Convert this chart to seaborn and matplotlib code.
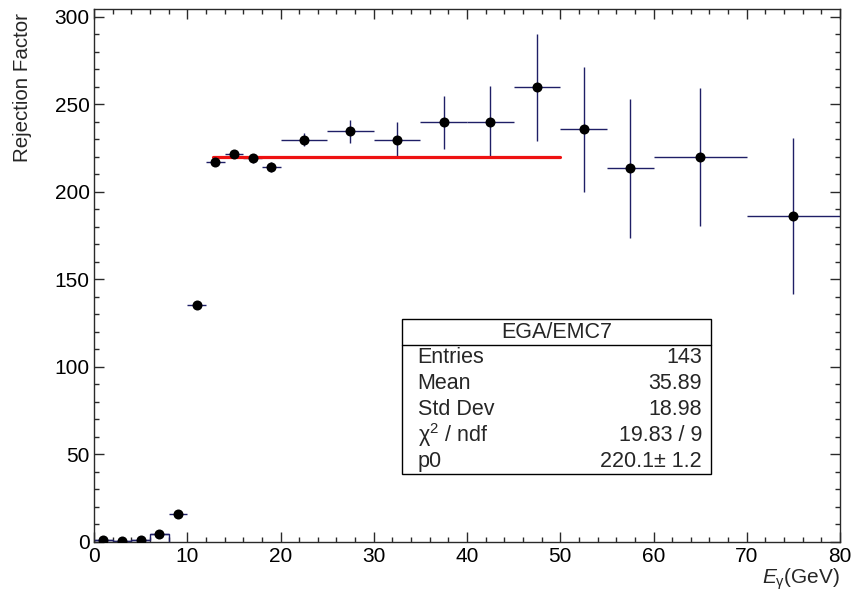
import matplotlib
matplotlib.use("Agg")
import matplotlib.pyplot as plt
import seaborn as sns
import pandas as pd

# histogram bins (ROOT style TH1 with errors)
bin_centers = [1, 3, 5, 7, 9, 11, 13, 15, 17, 19,
               22.5, 27.5, 32.5, 37.5, 42.5, 47.5, 52.5, 57.5, 65, 75]
bin_halfwidths = [1, 1, 1, 1, 1, 1, 1, 1, 1, 1,
                  2.5, 2.5, 2.5, 2.5, 2.5, 2.5, 2.5, 2.5, 5, 5]
rejection = [0.8, 0.2, 0.8, 4.3, 15.6, 135.2, 217.1, 221.5, 219.0, 214.3,
             229.8, 234.5, 229.8, 239.7, 239.7, 259.6, 235.6, 213.3, 219.8, 186.3]
rejection_err = [0.3, 0.2, 0.3, 0.8, 1.2, 1.8, 1.8, 1.8, 2.5, 2.9,
                 3.6, 6.7, 10.1, 15.2, 20.7, 30.5, 35.5, 39.5, 39.3, 44.5]

# low-energy bins drawn as outline
step_edges = [0, 2, 4, 6, 8]
step_values = [0.8, 0.2, 0.8, 4.3]

# constant fit
fit_range = [12.8, 50]
fit_p0 = 220.1

stats_title = "EGA/EMC7"
stats_labels = ["Entries", "Mean", "Std Dev", "χ$^{2}$ / ndf", "p0"]
stats_values = ["143", "35.89", "18.98", "19.83 / 9", "220.1± 1.2"]

df = pd.DataFrame({"E": bin_centers, "R": rejection})

sns.set_theme(style="ticks")
plt.rcParams["font.family"] = ["Liberation Sans", "DejaVu Sans"]
plt.rcParams["mathtext.fontset"] = "custom"
plt.rcParams["mathtext.rm"] = "Liberation Sans"
plt.rcParams["mathtext.it"] = "Liberation Sans:italic"

fig = plt.figure(figsize=(8.56, 5.91), dpi=100)
# frame from x=94..840 px, y=9..541.7 px
ax = fig.add_axes([94 / 856, 1 - 541.7 / 591, (840 - 94) / 856, (541.7 - 9) / 591])

err_color = "#1f1f66"
ax.stairs(step_values, step_edges, color=err_color, lw=1.0, baseline=0, zorder=2)
ax.errorbar(bin_centers, rejection, xerr=bin_halfwidths, yerr=rejection_err,
            fmt="none", ecolor=err_color, elinewidth=1.0, capsize=0, zorder=2)
ax.plot(fit_range, [fit_p0, fit_p0], color="#ee1111", lw=2.3, zorder=3)
sns.scatterplot(data=df, x="E", y="R", ax=ax, color="black", s=52,
                edgecolor="black", linewidth=0, zorder=4, legend=False)

ax.set_xlim(0, 80)
ax.set_ylim(0, 304.4)
ax.set_xticks(range(0, 81, 10))
ax.set_xticks(range(0, 81, 2), minor=True)
ax.set_yticks(range(0, 301, 50))
ax.set_yticks(range(0, 301, 10), minor=True)
ax.tick_params(which="both", direction="in", top=True, right=True,
               colors="#2a2a2a", labelcolor="black", labelsize=15, width=1.0)
ax.tick_params(which="major", length=7)
ax.tick_params(which="minor", length=3.8)
ax.tick_params(axis="x", pad=4)
ax.tick_params(axis="y", pad=3)
for sp in ax.spines.values():
    sp.set_color("#2a2a2a")
    sp.set_linewidth(1.0)

ax.set_xlabel(r"$E_{\mathrm{γ}}$(GeV)", fontsize=15, loc="right", labelpad=0)
ax.set_ylabel("Rejection Factor", fontsize=14.8, loc="top")
ax.yaxis.set_label_coords(-62 / 746, 0.993)

# stats box
W, H = 746, 532.7
bx0, bx1 = (402 - 94) / W, (711 - 94) / W
by_top, by_bot = (541.7 - 319) / H, (541.7 - 474) / H
by_mid = (541.7 - 345) / H
ax.add_patch(plt.Rectangle((bx0, by_bot), bx1 - bx0, by_top - by_bot,
                           transform=ax.transAxes, fill=True, facecolor="white",
                           edgecolor="black", lw=1.0, zorder=5))
ax.plot([bx0, bx1], [by_mid, by_mid], transform=ax.transAxes, color="black", lw=1.0, zorder=6)
ax.text((bx0 + bx1) / 2, (by_top + by_mid) / 2, stats_title, transform=ax.transAxes,
        ha="center", va="center", fontsize=15.5, zorder=6)
row_h = (by_mid - by_bot) / len(stats_labels)
for i, (lab, val) in enumerate(zip(stats_labels, stats_values)):
    yy = by_mid - row_h * (i + 0.5)
    ax.text(bx0 + 0.021, yy, lab, transform=ax.transAxes, ha="left", va="center",
            fontsize=15.5, zorder=6)
    ax.text(bx1 - 0.012, yy, val, transform=ax.transAxes, ha="right", va="center",
            fontsize=15.5, zorder=6)

fig.savefig("out.png", dpi=100)
